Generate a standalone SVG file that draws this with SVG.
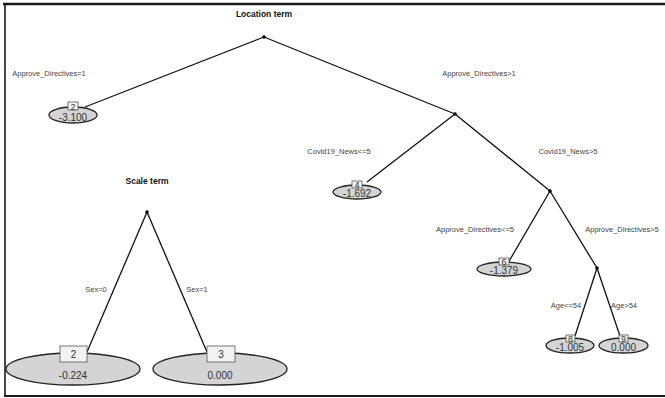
<svg xmlns="http://www.w3.org/2000/svg" width="665" height="398" viewBox="0 0 665 398">
<style>
.t{font-family:"Liberation Sans",Arial,sans-serif;font-size:7.5px;fill:#444;text-anchor:middle}
.h{font-family:"Liberation Sans",Arial,sans-serif;font-size:8.5px;font-weight:bold;fill:#111;text-anchor:middle}
.v{font-family:"Liberation Sans",Arial,sans-serif;font-size:10px;fill:#333;text-anchor:middle}
.vb{font-family:"Liberation Sans",Arial,sans-serif;font-size:10px;fill:#333;text-anchor:middle}
.n{font-family:"Liberation Sans",Arial,sans-serif;font-size:9px;fill:#333;text-anchor:middle}
.e{fill:#d4d4d4;stroke:#222;stroke-width:1.3}
.b{fill:#f2f2f2;stroke:#555;stroke-width:0.8}
.ln{stroke:#111;stroke-width:1.3;fill:none}
</style>
<rect width="665" height="398" fill="#fff"/>
<g id="frame" stroke="#1a1a1a" fill="none">
<line x1="3" y1="4" x2="665" y2="4" stroke-width="2.5"/>
<line x1="5" y1="3" x2="5" y2="397" stroke-width="1.6"/>
<line x1="4" y1="396" x2="665" y2="396" stroke-width="2.2"/>
</g>
<text class="h" x="264" y="17">Location term</text>
<text class="h" x="147" y="184">Scale term</text>
<g id="connectors">
<line class="ln" x1="264" y1="37" x2="85" y2="107"/>
<line class="ln" x1="264" y1="37" x2="455" y2="114"/>
<line class="ln" x1="455" y1="114" x2="367" y2="182"/>
<line class="ln" x1="455" y1="114" x2="550" y2="191"/>
<line class="ln" x1="550" y1="191" x2="508" y2="263"/>
<line class="ln" x1="550" y1="191" x2="597" y2="268"/>
<line class="ln" x1="597" y1="268" x2="575" y2="336"/>
<line class="ln" x1="597" y1="268" x2="620" y2="336"/>
<line class="ln" x1="147" y1="212" x2="87" y2="352"/>
<line class="ln" x1="147" y1="212" x2="207" y2="352"/>
<text class="t" x="49" y="76">Approve_Directives=1</text>
<text class="t" x="479" y="76">Approve_Directives&gt;1</text>
<text class="t" x="339" y="154">Covid19_News&lt;=5</text>
<text class="t" x="568" y="154">Covid19_News&gt;5</text>
<text class="t" x="475" y="232">Approve_Directives&lt;=5</text>
<text class="t" x="622" y="232">Approve_Directives&gt;5</text>
<text class="t" x="566" y="308">Age&lt;=54</text>
<text class="t" x="624" y="308">Age&gt;54</text>
<text class="t" x="96" y="292">Sex=0</text>
<text class="t" x="197" y="292">Sex=1</text>
</g>
<g id="root">
<circle cx="264" cy="37" r="1.8" fill="#000"/>
</g>
<g id="n3">
<circle cx="455" cy="114" r="1.8" fill="#000"/>
</g>
<g id="n5">
<circle cx="550" cy="191" r="1.8" fill="#000"/>
</g>
<g id="n7">
<circle cx="597" cy="268" r="1.8" fill="#000"/>
</g>
<g id="s1">
<circle cx="147" cy="212" r="1.8" fill="#000"/>
</g>
<g id="n2">
<ellipse class="e" cx="73" cy="115" rx="24" ry="8"/>
<rect class="b" x="68" y="102" width="10" height="8"/>
<text class="n" x="73" y="109.5">2</text>
<text class="v" x="73" y="121">-3.100</text>
</g>
<g id="n4">
<ellipse class="e" cx="357" cy="192" rx="24" ry="7"/>
<rect class="b" x="352" y="181" width="10" height="7"/>
<text class="n" x="357" y="187.5">4</text>
<text class="v" x="357" y="197">-1.692</text>
</g>
<g id="n6">
<ellipse class="e" cx="504" cy="269" rx="27" ry="7"/>
<rect class="b" x="499" y="258" width="10" height="7"/>
<text class="n" x="504" y="264.5">6</text>
<text class="v" x="504" y="274">-1.379</text>
</g>
<g id="n8">
<ellipse class="e" cx="570" cy="345.5" rx="24" ry="7.5"/>
<rect class="b" x="566" y="335" width="9" height="7"/>
<text class="n" x="570.5" y="341.5">8</text>
<text class="v" x="570" y="351">-1.005</text>
</g>
<g id="n9">
<ellipse class="e" cx="623.5" cy="345.5" rx="24.5" ry="7.5"/>
<rect class="b" x="619" y="335" width="9" height="7"/>
<text class="n" x="623.5" y="341.5">9</text>
<text class="v" x="623.5" y="351">0.000</text>
</g>
<g id="s2">
<ellipse class="e" cx="73" cy="369" rx="67" ry="16"/>
<rect class="b" x="60" y="346" width="27" height="16"/>
<text class="vb" x="73.5" y="358">2</text>
<text class="vb" x="73" y="379">-0.224</text>
</g>
<g id="s3">
<ellipse class="e" cx="220" cy="369" rx="67" ry="16"/>
<rect class="b" x="207" y="346" width="28" height="16"/>
<text class="vb" x="221" y="358">3</text>
<text class="vb" x="220" y="379">0.000</text>
</g>
</svg>
